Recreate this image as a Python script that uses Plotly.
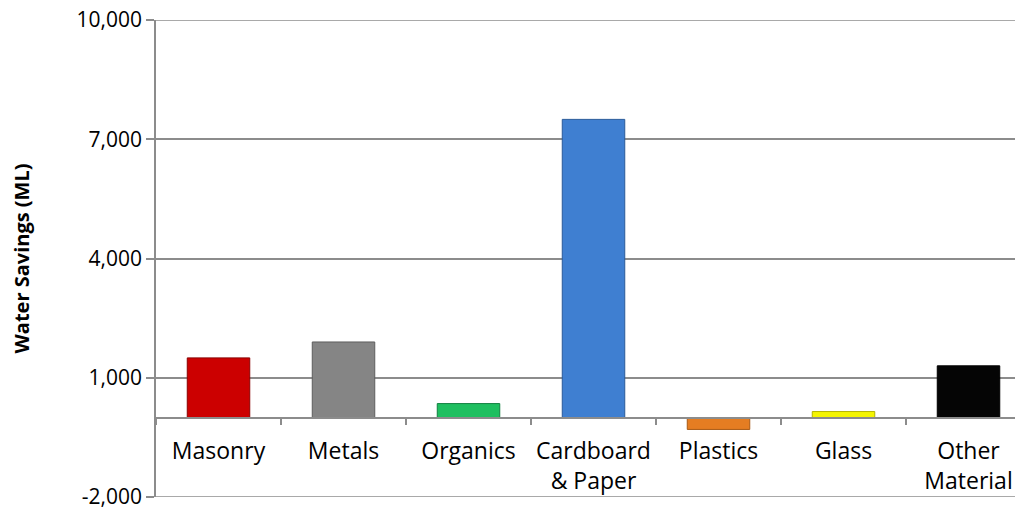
import plotly.graph_objects as go

# Data
materials = ["Masonry", "Metals", "Organics", "Cardboard<br>& Paper",
             "Plastics", "Glass", "Other<br>Material"]
water_savings = [1500, 1900, 350, 7500, -300, 150, 1300]
bar_colors = ["#CC0000", "#858585", "#1FBF60", "#3F7FD1",
              "#E57D22", "#F5F500", "#050505"]
edge_colors = ["#8A0000", "#5E5E5E", "#128040", "#2A5A99",
               "#A85A15", "#B5B500", "#000000"]
y_ticks = [-2000, 1000, 4000, 7000, 10000]
y_tick_text = ["-2,000", "1,000", "4,000", "7,000", "10,000"]

grid = "#8C8C8C"
font = "Open Sans"

fig = go.Figure()
fig.add_trace(go.Bar(
    x=materials,
    y=water_savings,
    width=0.5,
    marker=dict(color=bar_colors, line=dict(color=edge_colors, width=1)),
    showlegend=False,
))

# outer gridlines at the top and bottom of the value range
for yv in (y_ticks[0], y_ticks[-1]):
    fig.add_shape(type="line", xref="paper", yref="y", x0=0, x1=1, y0=yv, y1=yv,
                  line=dict(color=grid, width=1.5), layer="below")

# page body adds an 8px offset, so margins are trimmed to compensate
fig.update_layout(
    width=1023,
    height=511,
    margin=dict(l=148, r=11, t=12, b=22),
    plot_bgcolor="white",
    paper_bgcolor="white",
    font=dict(family=font, color="black"),
    xaxis=dict(
        range=[-0.5, 6.412],
        anchor="free",
        position=1 / 6,
        automargin=False,
        showline=True,
        linecolor=grid,
        linewidth=1.5,
        ticks="outside",
        tickson="boundaries",
        ticklen=7,
        tickcolor=grid,
        tickwidth=1.5,
        ticklabelstandoff=13,
        showgrid=False,
        tickfont=dict(size=23, family=font, color="black"),
    ),
    yaxis=dict(
        range=[-2000, 10000],
        tickvals=y_ticks,
        ticktext=y_tick_text,
        automargin=False,
        ticklabeloverflow="allow",
        showline=True,
        linecolor=grid,
        linewidth=1.5,
        ticks="outside",
        ticklen=8,
        tickcolor=grid,
        tickwidth=1.5,
        showgrid=True,
        gridcolor=grid,
        gridwidth=1.5,
        zeroline=False,
        tickfont=dict(size=21, family=font, color="black"),
        title=dict(text="<b>Water Savings (ML)</b>", font=dict(size=20, family=font), standoff=48),
    ),
)

fig.write_html("out.html")
